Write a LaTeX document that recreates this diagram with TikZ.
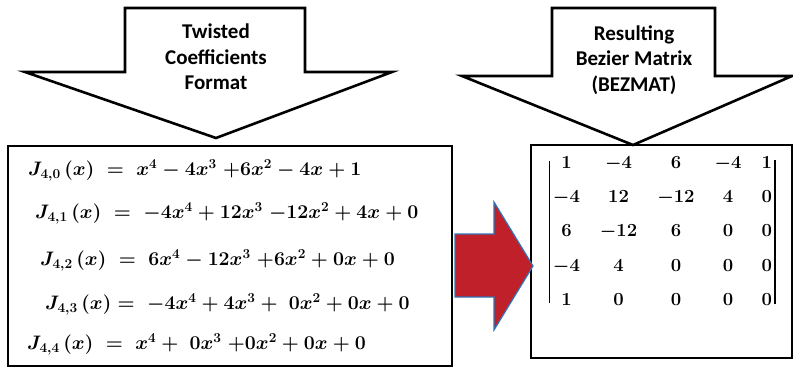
\RequirePackage{fix-cm}
\documentclass[tikz,border=0pt]{standalone}
\usepackage{amsmath}
\usepackage{fontspec}
\newfontfamily\headfont{Carlito}
\definecolor{arrowred}{HTML}{C0202A}
\definecolor{arrowblue}{HTML}{2E75B6}
\usetikzlibrary{matrix}

\begin{document}
\begin{tikzpicture}[
  x=1pt, y=-1pt,
  blockarrow/.style={draw=black, line width=2.6pt, fill=white, line join=miter},
  panel/.style={draw=black, line width=1.8pt},
  caption/.style={font=\headfont\bfseries\fontsize{21}{25.5}\selectfont, align=center},
  eqn/.style={anchor=west, inner sep=0pt, font=\fontsize{19.5}{23}\selectfont\boldmath},
  entry/.style={inner sep=0pt, text height=13pt, text depth=3.5pt,
    font=\fontsize{18.5}{22}\selectfont\boldmath},
  bar/.style={draw=black, line width=1.5pt},
]
  \useasboundingbox (0,0) rectangle (793,367);

  % panels
  \draw[panel] (8,146) rectangle (452,366);
  \draw[panel] (531,145) rectangle (792,358);

  % block arrows on top
  \draw[blockarrow] (125,8) -- (305,8) -- (305,72) -- (392,72) -- (216,138)
    -- (25,72) -- (125,72) -- cycle;
  \node[caption] (twisted) at (216,57) {Twisted\\Coefficients\\Format};

  \draw[blockarrow] (552,8) -- (715,8) -- (715,76) -- (792,76) -- (633,145)
    -- (462,76) -- (552,76) -- cycle;
  \node[caption] (resulting) at (634,60) {Resulting\\Bezier Matrix\\(BEZMAT)};

  % red arrow between the panels
  \draw[fill=arrowred, draw=arrowblue, line width=1.2pt, line join=miter]
    (455,234) -- (494,234) -- (494,202) -- (533,266) -- (494,330)
    -- (494,297) -- (455,297) -- cycle;

  % twisted coefficients
  \node[eqn] (j40) at (28,170)
    {$J_{4,0}\,(x) \;=\; x^4 - 4x^3\; {+}6x^2 - 4x + 1$};
  \node[eqn] (j41) at (35,213)
    {$J_{4,1}\,(x) \;=\; -4x^4 + 12x^3\; {-}12x^2 + 4x + 0$};
  \node[eqn] (j42) at (40,260)
    {$J_{4,2}\,(x) \;=\; 6x^4 - 12x^3\; {+}6x^2 + 0x + 0$};
  \node[eqn] (j43) at (45,304)
    {$J_{4,3}\,(x) = \; -4x^4 + 4x^3 +\; 0x^2 + 0x + 0$};
  \node[eqn] (j44) at (27,344)
    {$J_{4,4}\,(x) \;=\; x^4 +\; 0x^3\; {+}0x^2 + 0x + 0$};

  % bezier matrix
  \matrix (bezmat) [matrix of math nodes, nodes={entry}, inner sep=0pt,
    column sep=20pt, row sep=17.75pt] at (662.5,232) {
     1 & -4 &   6 & -4 & 1 \\
    -4 & 12 & -12 &  4 & 0 \\
     6 & -12 &  6 &  0 & 0 \\
    -4 &  4 &   0 &  0 & 0 \\
     1 &  0 &   0 &  0 & 0 \\
  };
  \draw[bar] ([xshift=-3.5pt,yshift=-6pt]bezmat.north west)
    -- ([xshift=-3.5pt,yshift=5.5pt]bezmat.south west);
  \draw[bar] ([xshift=3pt,yshift=-5pt]bezmat.north east)
    -- ([xshift=3pt,yshift=5pt]bezmat.south east);
\end{tikzpicture}
\end{document}
